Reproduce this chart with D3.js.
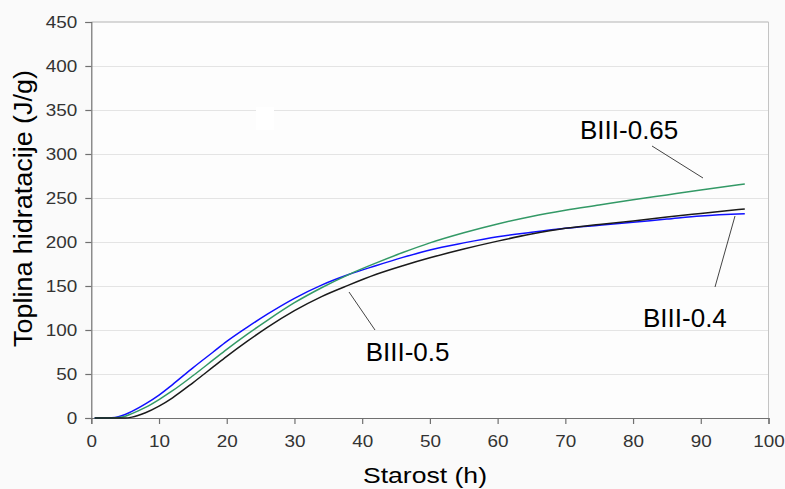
<!DOCTYPE html>
<html>
<head>
<meta charset="utf-8">
<script src="https://cdn.jsdelivr.net/npm/d3@7"></script>
<style>
  html, body { margin: 0; padding: 0; background: #fafafa; }
  svg { display: block; }
  text { font-family: "Liberation Sans", Arial, sans-serif; }
</style>
</head>
<body>
<svg id="chart" width="785" height="489"></svg>
<script>
// ---- data ----
const timeH = [0.5, 2, 3, 4, 5, 6, 8, 10, 12, 15, 18, 20, 23, 26, 30, 34, 38, 42, 46, 50, 55, 60, 65, 70, 75, 80, 85, 90, 96.5];
const biii04  = [0, 0, 0.3, 1.5, 4, 7.5, 16, 26, 38, 57, 75, 87, 103, 118, 136, 151, 163, 173, 182.5, 191, 199, 206, 211, 215.5, 219, 222.5, 226, 229.5, 232];
const biii065 = [0, 0, 0, 0.5, 2, 5, 12, 21, 31, 48, 66, 78, 95, 111, 131, 148, 163, 176, 188, 199, 210.5, 220.5, 229, 236, 242, 248, 253.5, 259, 266];
const biii05  = [0, 0, 0, 0, 0, 1, 6, 13.5, 23, 40, 58, 70, 87, 103, 122, 138, 151, 163, 173, 182, 192, 201, 209, 215.5, 220, 224, 228.5, 232.5, 237.5];
const seriesNames = ["BIII-0.4", "BIII-0.65", "BIII-0.5"];
const xTicks = [0, 10, 20, 30, 40, 50, 60, 70, 80, 90, 100];
const yTicks = [0, 50, 100, 150, 200, 250, 300, 350, 400, 450];
const xTitle = "Starost (h)";
const yTitle = "Toplina hidratacije (J/g)";

const svg = d3.select("#chart");
const x = d3.scaleLinear().domain([0, 100]).range([91.3, 768.5]);
const y = d3.scaleLinear().domain([0, 450]).range([418, 22]);

// plot background
svg.append("rect").attr("x", x(0)).attr("y", y(450)).attr("width", x(100) - x(0)).attr("height", y(0) - y(450)).attr("fill", "#fdfdfd");

// gridlines
svg.append("g").selectAll("line").data(yTicks.filter(d => d > 0 && d < 450)).join("line")
  .attr("x1", x(0)).attr("x2", x(100)).attr("y1", d => y(d) + 0.5).attr("y2", d => y(d) + 0.5)
  .attr("stroke", "#e4e4e4").attr("stroke-width", 1);
// top & right border
svg.append("line").attr("x1", x(0)).attr("x2", x(100)).attr("y1", y(450)).attr("y2", y(450)).attr("stroke", "#b4b4b4");
svg.append("line").attr("x1", x(100)).attr("x2", x(100)).attr("y1", y(450)).attr("y2", y(0)).attr("stroke", "#c4c4c4");

// small white patch seen in reference
svg.append("rect").attr("x", 256).attr("y", 107).attr("width", 18).attr("height", 23).attr("fill", "#ffffff");

// axes
const yAxis = svg.append("g").attr("transform", `translate(${x(0)},0)`)
  .call(d3.axisLeft(y).tickValues(yTicks).tickSize(6).tickPadding(8));
const xAxis = svg.append("g").attr("transform", `translate(0,${y(0)})`)
  .call(d3.axisBottom(x).tickValues(xTicks).tickSize(6).tickPadding(12));
[yAxis, xAxis].forEach(g => {
  g.select(".domain").attr("stroke", "#707070").attr("stroke-width", 1.2);
  g.selectAll(".tick line").attr("stroke", "#707070").attr("stroke-width", 1.2);
  g.selectAll(".tick text").attr("fill", "#333").attr("font-size", 16)
    .attr("font-family", "Liberation Sans, Arial, sans-serif")
    .each(function () {
      const w = this.getComputedTextLength();
      d3.select(this).attr("textLength", w * 1.18).attr("lengthAdjust", "spacingAndGlyphs");
    });
});

// axis titles
svg.append("text").attr("x", 425).attr("y", 483).attr("text-anchor", "middle")
  .attr("font-size", 22).attr("fill", "#000").attr("textLength", 124).attr("lengthAdjust", "spacingAndGlyphs")
  .text(xTitle);
svg.append("text").attr("transform", "translate(32,208.5) rotate(-90) scale(1,1.18)")
  .attr("text-anchor", "middle").attr("font-size", 22).attr("fill", "#000")
  .attr("textLength", 277).attr("lengthAdjust", "spacingAndGlyphs")
  .text(yTitle);

// lines
const line = d3.line().x(d => x(d[0])).y(d => y(d[1])).curve(d3.curveMonotoneX);
const series = [
  { name: seriesNames[0], vals: biii04, color: "#1010ff" },
  { name: seriesNames[1], vals: biii065, color: "#339966" },
  { name: seriesNames[2], vals: biii05, color: "#1a1a1a" }
];
svg.append("g").selectAll("path").data(series).join("path")
  .attr("d", s => line(timeH.map((t, i) => [t, s.vals[i]])))
  .attr("fill", "none").attr("stroke", s => s.color).attr("stroke-width", 1.5);

// annotations
const ann = [
  { text: seriesNames[1], tx: 580, ty: 138.5, l: [652, 146, 703, 178] },
  { text: seriesNames[0], tx: 643, ty: 326.7, l: [735, 216, 715, 287] },
  { text: seriesNames[2], tx: 365.7, ty: 360.5, l: [349, 292, 375, 330] }
];
ann.forEach(a => {
  svg.append("line").attr("x1", a.l[0]).attr("y1", a.l[1]).attr("x2", a.l[2]).attr("y2", a.l[3])
    .attr("stroke", "#444").attr("stroke-width", 1);
  svg.append("text").attr("x", a.tx).attr("y", a.ty).attr("font-size", 26).attr("fill", "#000").text(a.text);
});
</script>
</body>
</html>
